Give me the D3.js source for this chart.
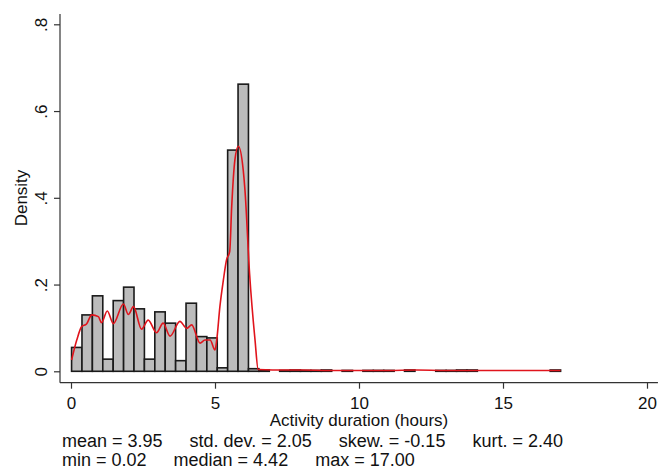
<!DOCTYPE html>
<html>
<head>
<meta charset="utf-8">
<script src="https://cdn.jsdelivr.net/npm/d3@7"></script>
<style>
  body { margin: 0; background: #fff; }
  text { font-family: "Liberation Sans", Arial, sans-serif; fill: #111; }
</style>
</head>
<body>
<div class="chart"></div>
<script>
var width = 672, height = 473;

// histogram: 47 bins from 0.02 to 17.00
var binStart = 0.02, binWidth = (17.00 - 0.02) / 47;
var density = [0.055, 0.130, 0.174, 0.028, 0.163, 0.194, 0.144, 0.028, 0.137, 0.111,
               0.0245, 0.157, 0.080, 0.077, 0.008, 0.510, 0.662, 0.006, 0.003, 0,
               0.002, 0.003, 0.002, 0.002, 0.003, 0, 0.002, 0, 0.002, 0.002,
               0.002, 0, 0.003, 0, 0, 0.002, 0.002, 0.003, 0.003, 0,
               0, 0, 0, 0, 0, 0, 0.003];

// kernel density estimate
var kdeX = [0.02, 0.2, 0.37, 0.54, 0.72, 0.95, 1.06, 1.26, 1.47, 1.82, 1.99, 2.17, 2.45, 2.68, 2.97,
            3.2, 3.44, 3.78, 4.02, 4.19, 4.48, 4.65, 4.83, 5.0, 5.06, 5.17, 5.29, 5.4, 5.51, 5.58,
            5.69, 5.81, 5.98, 6.04, 6.2, 6.39, 6.5, 7, 8, 9, 10, 11, 12, 13, 14, 15, 16, 17];
var kdeY = [0.026, 0.072, 0.103, 0.109, 0.130, 0.126, 0.112, 0.139, 0.110, 0.155, 0.131, 0.149, 0.097, 0.118, 0.089,
            0.111, 0.081, 0.115, 0.099, 0.107, 0.065, 0.072, 0.072, 0.049, 0.072, 0.149, 0.21, 0.257, 0.276, 0.38,
            0.487, 0.519, 0.464, 0.418, 0.226, 0.072, 0.004, 0.003, 0.003, 0.002, 0.002, 0.002, 0.003, 0.002, 0.002, 0.002, 0.002, 0.002];

var xTicks = [0, 5, 10, 15, 20];
var yTicks = [0, 0.2, 0.4, 0.6, 0.8];
var statLines = [["mean = 3.95", "std. dev. = 2.05", "skew. = -0.15", "kurt. = 2.40"],
                 ["min = 0.02", "median = 4.42", "max = 17.00"]];

var x = d3.scaleLinear().domain([0, 20]).range([71, 647]);
var y = d3.scaleLinear().domain([0, 0.8]).range([371.3, 24.3]);

var svg = d3.select(".chart")
  .append("svg")
    .attr("width", width)
    .attr("height", height);

// bars
svg.append("g")
  .selectAll("rect")
  .data(density)
  .enter().append("rect")
    .attr("x", function(d, i) { return x(binStart + i * binWidth); })
    .attr("y", function(d) { return y(d); })
    .attr("width", x(binWidth) - x(0))
    .attr("height", function(d) { return y(0) - y(d); })
    .style("fill", function(d) { return d > 0 ? "#bcbcbc" : "none"; })
    .style("stroke", function(d) { return d > 0 ? "#1a1a1a" : "none"; })
    .style("stroke-width", 1.6);

// kernel density
var line = d3.line()
  .x(function(d) { return x(d[0]); })
  .y(function(d) { return y(d[1]); })
  .curve(d3.curveMonotoneX);

svg.append("path")
  .datum(d3.zip(kdeX, kdeY))
  .attr("d", line)
  .style("fill", "none")
  .style("stroke", "#e0141c")
  .style("stroke-width", 1.6);

// axes
var yAxis = svg.append("g")
  .attr("transform", "translate(60,0)")
  .call(d3.axisLeft(y).tickValues(yTicks).tickSize(6).tickSizeOuter(0)
    .tickFormat(function(d) { return d === 0 ? "0" : d3.format(".1f")(d).replace(/^0/, ""); }));
yAxis.select(".domain").remove();
yAxis.selectAll("line").style("stroke", "#333").style("stroke-width", 1.2);
yAxis.selectAll("text")
  .attr("transform", "rotate(-90)")
  .attr("x", 0).attr("y", -13).attr("dy", 0)
  .attr("text-anchor", "middle")
  .style("font-size", "17px")
  .style("font-family", "Liberation Sans, Arial, sans-serif")
  .style("fill", "#111");

var xAxis = svg.append("g")
  .attr("transform", "translate(0,382.7)")
  .call(d3.axisBottom(x).tickValues(xTicks).tickSize(6).tickSizeOuter(0).tickFormat(d3.format("d")));
xAxis.select(".domain").remove();
xAxis.selectAll("line").style("stroke", "#333").style("stroke-width", 1.2);
xAxis.selectAll("text")
  .attr("y", 26.5).attr("dy", 0)
  .style("font-size", "17px")
  .style("font-family", "Liberation Sans, Arial, sans-serif")
  .style("fill", "#111");

// axis lines
svg.append("line")
  .attr("x1", 60).attr("x2", 60)
  .attr("y1", 14).attr("y2", 382.7)
  .style("stroke", "#333").style("stroke-width", 1.2);
svg.append("line")
  .attr("x1", 60).attr("x2", x(20.38))
  .attr("y1", 382.7).attr("y2", 382.7)
  .style("stroke", "#333").style("stroke-width", 1.2);

// titles
svg.append("text")
  .attr("transform", "translate(27,198) rotate(-90)")
  .attr("text-anchor", "middle")
  .style("font-size", "17px")
  .text("Density");

svg.append("text")
  .attr("x", x(10)).attr("y", 426)
  .attr("text-anchor", "middle")
  .style("font-size", "17px")
  .text("Activity duration (hours)");

// note lines: segments separated by a fixed gap
var gap = 27;
statLines.forEach(function(segs, li) {
  var t = svg.append("text")
    .attr("y", 447 + li * 18.5)
    .style("font-size", "18px");
  var cx = 62;
  segs.forEach(function(s) {
    var ts = t.append("tspan").attr("x", cx).text(s);
    cx += ts.node().getComputedTextLength() + gap;
  });
});
</script>
</body>
</html>
